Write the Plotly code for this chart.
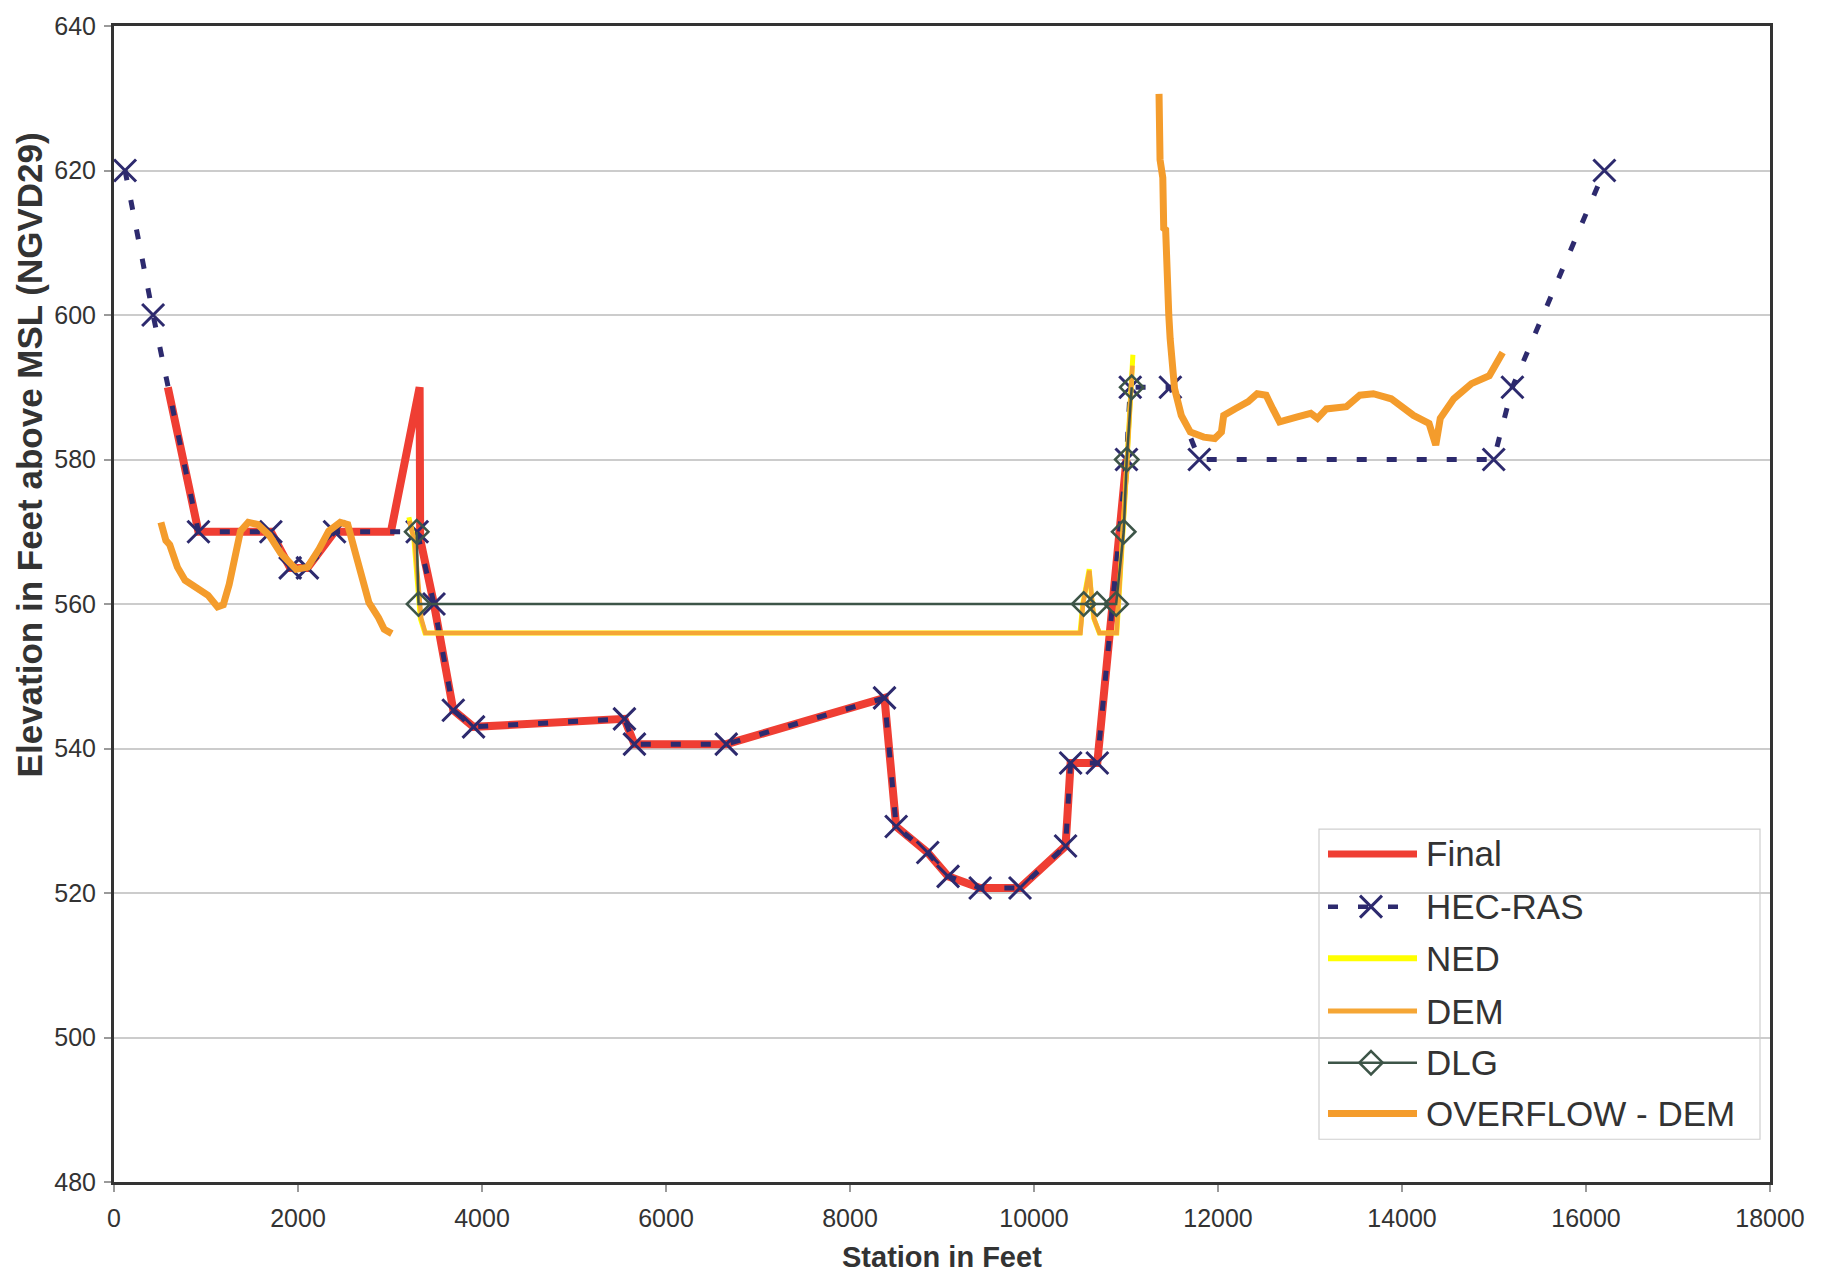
import plotly.graph_objects as go

# ---- cross-section data (station in feet, elevation in feet NGVD29) ----
final_x = [585, 918, 1705, 1915, 2102, 2397, 3010, 3322, 3328, 3478, 3688, 3908,
           5548, 5657, 6655, 8375, 8502, 8845, 9066, 9415, 9848, 10343, 10398,
           10688, 11005]
final_y = [590, 570, 570, 565, 565, 570, 570, 590, 569, 560, 545.3, 543,
           544.1, 540.6, 540.6, 547, 529.2, 525.6, 522.3, 520.7, 520.7, 526.5, 538,
           538, 580]

hec_x = [120, 425, 918, 1705, 1915, 2102, 2397, 3295, 3478, 3688, 3908, 5548,
         5657, 6655, 8375, 8502, 8845, 9066, 9415, 9848, 10343, 10398, 10688,
         11005, 11046, 11482, 11797, 14997, 15200, 16200]
hec_y = [620, 600, 570, 570, 565, 565, 570, 570, 560, 545.3, 543, 544.1,
         540.6, 540.6, 547, 529.2, 525.6, 522.3, 520.7, 520.7, 526.5, 538, 538,
         580, 590, 590, 580, 580, 590, 620]

ned_x = [3205, 3260, 3330, 3380, 10500, 10530, 10560, 10600, 10625, 10650, 10710,
         10900, 10990, 11075]
ned_y = [572, 569, 558, 556, 556, 560, 562, 564.8, 561, 558, 556,
         556, 575, 594.5]

dem_x = [3210, 3270, 3340, 3385, 10505, 10533, 10562, 10602, 10627, 10652, 10712,
         10898, 10985, 11070]
dem_y = [571.5, 568.5, 558, 556, 556, 560, 562, 564.6, 561, 558, 556,
         556, 574, 593]

dlg_x = [3290, 3310, 10540, 10686, 10893, 10975, 11008, 11062]
dlg_y = [570, 560, 560, 560, 560, 570, 580, 590]

# overbank profiles (left and right), separated by a gap
overflow_x = [510, 564, 606, 689, 772, 898, 1022, 1125, 1188, 1252, 1313, 1375,
              1459, 1563, 1688, 1813, 1980, 2105, 2229, 2334, 2459, 2541, 2625,
              2708, 2771, 2875, 2937, 3020,
              None,
              11359, 11364, 11370, 11400, 11410, 11431, 11440, 11456, 11465, 11480,
              11528, 11601, 11699, 11845, 11965, 12037, 12062, 12183, 12329, 12426,
              12523, 12596, 12669, 12863, 13008, 13081, 13178, 13396, 13542, 13688,
              13882, 14125, 14294, 14367, 14416, 14562, 14755, 14949, 15021, 15094]
overflow_y = [571.3, 568.8, 568.2, 565.1, 563.3, 562.1, 561.2, 559.6, 559.9, 562.7,
              567, 570.1, 571.3, 571, 569.5, 567, 564.8, 565.1, 567.6, 570.1, 571.3,
              571, 567, 562.7, 560.2, 558.1, 556.5, 555.9,
              None,
              630.6, 626, 621.5, 619, 612, 611.8, 606, 604.5, 600, 596.7,
              589.8, 586.1, 583.8, 583.1, 582.9, 583.8, 586.1, 587, 588, 589.1,
              588.9, 587, 585.2, 585.9, 586.4, 585.7, 587, 587.3, 588.9, 589.1,
              588.4, 586.1, 585, 582, 585.7, 588.4, 590.5, 591.6, 593, 594.8]

x_ticks = list(range(0, 18001, 2000))
y_ticks = list(range(480, 641, 20))

series_names = ["Final", "HEC-RAS", "NED", "DEM", "DLG", "OVERFLOW - DEM"]

FONT = "Liberation Sans, Arial, sans-serif"
TXT = "#333333"
C_FINAL = "#ef3e33"
C_HEC = "#2d2a6e"
C_NED = "#ffff00"
C_DEM = "#f5a635"
C_DLG = "#3d5548"
C_OVER = "#f49c2c"

HEC_MARKER = dict(symbol="x-thin-open", size=22, color=C_HEC,
                  line=dict(color=C_HEC, width=3))
DLG_MARKER = dict(symbol="diamond-open", size=18, color=C_DLG,
                  line=dict(color=C_DLG, width=2.5))

fig = go.Figure()

fig.add_trace(go.Scatter(x=final_x, y=final_y, mode="lines", name=series_names[0],
                         line=dict(color=C_FINAL, width=8), showlegend=False))
fig.add_trace(go.Scatter(x=hec_x, y=hec_y, mode="lines+markers", name=series_names[1],
                         line=dict(color=C_HEC, width=5, dash="10px,20px"),
                         marker=HEC_MARKER, showlegend=False))
fig.add_trace(go.Scatter(x=ned_x, y=ned_y, mode="lines", name=series_names[2],
                         line=dict(color=C_NED, width=5), showlegend=False))
fig.add_trace(go.Scatter(x=dem_x, y=dem_y, mode="lines", name=series_names[3],
                         line=dict(color=C_DEM, width=4.5), showlegend=False))
fig.add_trace(go.Scatter(x=dlg_x, y=dlg_y, mode="lines+markers", name=series_names[4],
                         line=dict(color=C_DLG, width=2.5),
                         marker=DLG_MARKER, showlegend=False))
fig.add_trace(go.Scatter(x=overflow_x, y=overflow_y, mode="lines", name=series_names[5],
                         line=dict(color=C_OVER, width=7), connectgaps=False,
                         showlegend=False))

# ---- legend box drawn in paper coordinates ----
L, R, T, B = 114, 1770, 19, 1182          # plot area in pixels
W, H = R - L, B - T


def px(xp):
    return (xp - L) / W


def py(yp):
    return (B - yp) / H


box = dict(x0=px(1319), x1=px(1760), y0=py(1139), y1=py(827))
rows = [852, 905, 957, 1010, 1062, 1113]
seg_x0, seg_x1, text_x = px(1328), px(1417), px(1424)
sym_x = px(1371)

shapes = [dict(type="rect", xref="paper", yref="paper", layer="between",
               fillcolor="white", line=dict(color="#cfcfcf", width=1.2), **box)]
styles = [
    dict(color=C_FINAL, width=7),
    dict(color=C_HEC, width=4.5, dash="10px,20px"),
    dict(color=C_NED, width=6),
    dict(color=C_DEM, width=5),
    dict(color=C_DLG, width=2.5),
    dict(color=C_OVER, width=7),
]
for yrow, st in zip(rows, styles):
    shapes.append(dict(type="line", xref="paper", yref="paper", layer="between",
                       x0=seg_x0, x1=seg_x1, y0=py(yrow), y1=py(yrow), line=st))

annotations = [dict(x=text_x, y=py(yrow), xref="paper", yref="paper", text=name,
                    showarrow=False, xanchor="left", yanchor="middle",
                    font=dict(family=FONT, size=35, color=TXT))
               for yrow, name in zip(rows, series_names)]

# legend symbols on a hidden overlay axis spanning the paper area
fig.add_trace(go.Scatter(x=[sym_x], y=[py(rows[1])], xaxis="x2", yaxis="y2",
                         mode="markers", showlegend=False, hoverinfo="skip",
                         cliponaxis=False, marker=HEC_MARKER))
fig.add_trace(go.Scatter(x=[sym_x], y=[py(rows[4])], xaxis="x2", yaxis="y2",
                         mode="markers", showlegend=False, hoverinfo="skip",
                         cliponaxis=False, marker=DLG_MARKER))

# axis titles
annotations.append(dict(x=0.5, y=py(1257), xref="paper", yref="paper",
                        text="<b>Station in Feet</b>", showarrow=False,
                        xanchor="center", yanchor="middle",
                        font=dict(family=FONT, size=29, color=TXT)))
annotations.append(dict(x=px(29), y=py(451), xref="paper", yref="paper",
                        text="<b>Elevation in Feet above MSL (NGVD29)</b>",
                        showarrow=False, textangle=-90,
                        xanchor="center", yanchor="middle",
                        font=dict(family=FONT, size=35, color=TXT)))

fig.update_layout(
    width=1824, height=1275,
    margin=dict(l=L, r=1824 - R, t=T, b=1275 - B),
    paper_bgcolor="white", plot_bgcolor="white",
    showlegend=False,
    font=dict(family=FONT, color=TXT),
    shapes=shapes,
    annotations=annotations,
    xaxis=dict(range=[0, 18000], tickvals=x_ticks, ticktext=[str(v) for v in x_ticks],
               showgrid=False, zeroline=False,
               showline=True, linecolor="#333333", linewidth=3, mirror=True,
               ticks="outside", ticklen=7, tickcolor="#9a9a9a", tickwidth=1.5,
               ticklabelstandoff=5,
               tickfont=dict(family=FONT, size=25, color=TXT)),
    yaxis=dict(range=[480, 640], tickvals=y_ticks, ticktext=[str(v) for v in y_ticks],
               showgrid=True, gridcolor="#cccccc", gridwidth=1.5, zeroline=False,
               showline=True, linecolor="#333333", linewidth=3, mirror=True,
               ticks="outside", ticklen=7, tickcolor="#9a9a9a", tickwidth=1.5,
               ticklabelstandoff=3,
               tickfont=dict(family=FONT, size=25, color=TXT)),
    xaxis2=dict(overlaying="x", range=[0, 1], visible=False, fixedrange=True),
    yaxis2=dict(overlaying="y", range=[0, 1], visible=False, fixedrange=True),
)

fig.write_html("out.html")
